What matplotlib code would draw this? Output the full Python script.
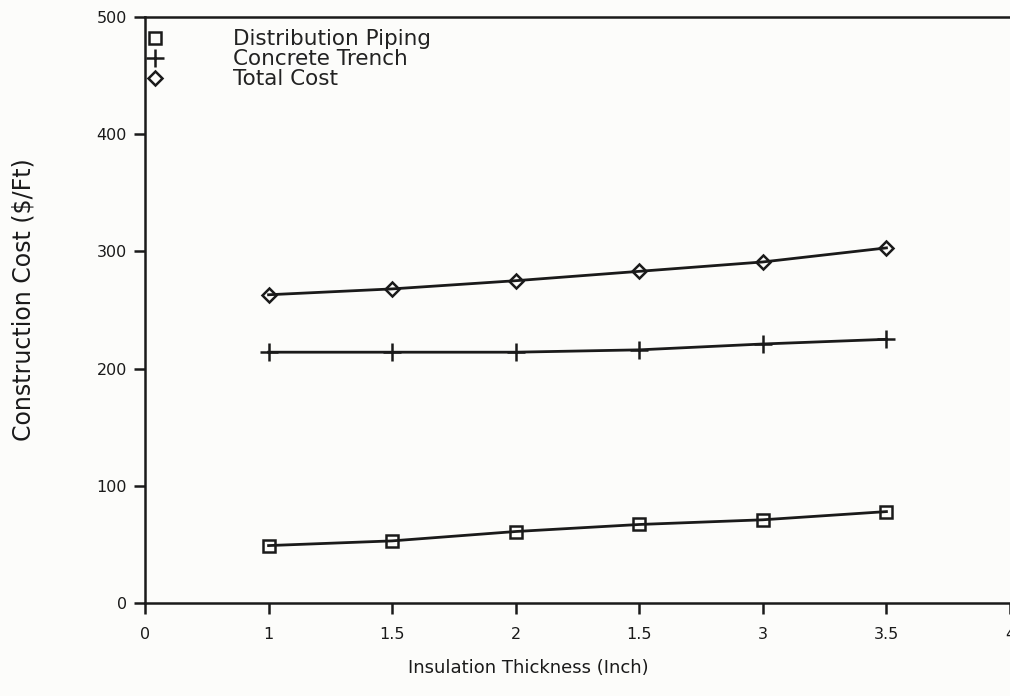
import matplotlib
matplotlib.use("Agg")
import matplotlib.pyplot as plt

# Data
thickness_labels = ["0", "1", "1.5", "2", "1.5", "3", "3.5", "4"]
thickness = [1, 1.5, 2, 2.5, 3, 3.5]
piping = [49, 53, 61, 67, 71, 78]
trench = [214, 214, 214, 216, 221, 225]
total = [263, 268, 275, 283, 291, 303]
y_ticks = [0, 100, 200, 300, 400, 500]

bg = "#fcfcfa"
ink = "#1a1a1a"

fig = plt.figure(figsize=(10.1, 6.96), dpi=100, facecolor=bg)
ax = fig.add_axes([145 / 1010, (696 - 603) / 696, (1010 - 145) / 1010, (603 - 17) / 696])
ax.set_facecolor(bg)

# categorical positions for the thickness values (index 1..6)
pos = list(range(1, len(thickness) + 1))

ax.plot(pos, piping, color=ink, lw=2, marker="s", ms=8, mfc="none", mew=1.8,
        label="Distribution Piping")
ax.plot(pos, trench, color=ink, lw=2, marker="+", ms=13, mew=1.8,
        label="Concrete Trench")
ax.plot(pos, total, color=ink, lw=2, marker="D", ms=7, mfc="none", mew=1.8,
        label="Total Cost")

ax.set_xlim(0, len(thickness_labels) - 1)
ax.set_ylim(0, 500)
ax.set_xticks(range(len(thickness_labels)))
ax.set_xticklabels(thickness_labels)
ax.set_yticks(y_ticks)
ax.set_yticklabels([str(v) for v in y_ticks])

for s in ["left", "bottom", "top"]:
    ax.spines[s].set_color(ink)
    ax.spines[s].set_linewidth(1.8)
ax.spines["right"].set_visible(False)
ax.tick_params(axis="both", direction="out", length=8, width=1.8, colors=ink,
               labelsize=11.5)
ax.tick_params(axis="y", pad=5)
ax.tick_params(axis="x", pad=9)

ax.set_xlabel("Insulation Thickness (Inch)", fontsize=13, color=ink)
ax.xaxis.set_label_coords((528 - 145) / 865, -0.095)
ax.set_ylabel("Construction Cost ($/Ft)", fontsize=17, color=ink)
ax.yaxis.set_label_coords(-0.127, 0.517)

leg = ax.legend(loc="upper left", bbox_to_anchor=(0.0, 0.983), frameon=False,
                fontsize=15.5, handlelength=0.7, handletextpad=3.3,
                borderaxespad=0.0, borderpad=0.1, labelspacing=0.0)
for t in leg.get_texts():
    t.set_color("#222222")
for h in leg.legend_handles:
    h.set_linestyle("none")

fig.savefig("out.png", dpi=100, facecolor=bg)
